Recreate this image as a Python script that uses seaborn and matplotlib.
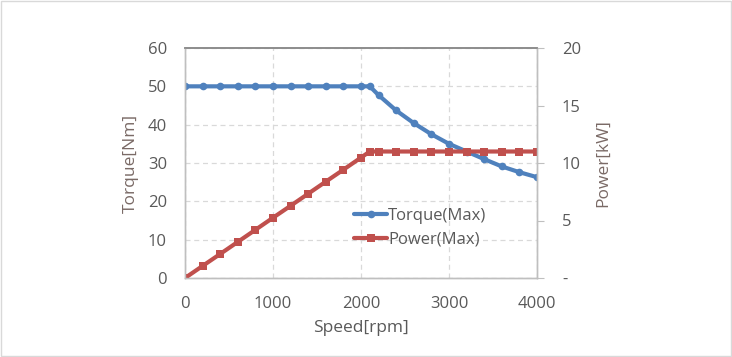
import numpy as np
import pandas as pd
import matplotlib
matplotlib.use('Agg')
import matplotlib.pyplot as plt
import seaborn as sns
from matplotlib.patches import Rectangle

# Data
speed = [0, 200, 400, 600, 800, 1000, 1200, 1400, 1600, 1800, 2000, 2100,
         2200, 2400, 2600, 2800, 3000, 3200, 3400, 3600, 3800, 4000]
torque = [50, 50, 50, 50, 50, 50, 50, 50, 50, 50, 50, 50,
          47.7, 43.7, 40.4, 37.5, 35.0, 33.0, 31.0, 29.1, 27.6, 26.3]
power = [0, 1.05, 2.09, 3.14, 4.19, 5.24, 6.28, 7.33, 8.38, 9.42, 10.47, 11.0,
         11.0, 11.0, 11.0, 11.0, 11.0, 11.0, 11.0, 11.0, 11.0, 11.0]

df = pd.DataFrame({'speed': speed, 'torque': torque, 'power': power})

sns.set_style('white')
plt.rcParams['font.family'] = ['Open Sans', 'DejaVu Sans']

blue = '#4F81BD'
red = '#C0504D'
txt = '#595959'
spine = '#BFBFBF'

fig = plt.figure(figsize=(7.32, 3.57), dpi=100)
ax = fig.add_axes([185 / 732, 1 - 278 / 357, 352 / 732, 230 / 357])
ax2 = ax.twinx()

sns.lineplot(data=df, x='speed', y='torque', ax=ax, color=blue, lw=3,
             marker='o', markersize=5.5, markeredgewidth=0, label='Torque(Max)', legend=False)
sns.lineplot(data=df, x='speed', y='power', ax=ax2, color=red, lw=3,
             marker='s', markersize=6, markeredgewidth=0, label='Power(Max)', legend=False)

ax.set_xlim(0, 4000)
ax.set_ylim(0, 60)
ax2.set_ylim(0, 20)
ax.set_xticks([0, 1000, 2000, 3000, 4000])
ax.set_yticks([0, 10, 20, 30, 40, 50, 60])
ax2.set_yticks([0, 5, 10, 15, 20])
ax2.set_yticklabels(['-', '5', '10', '15', '20'])

ax.grid(True, color='#D9D9D9', ls=(0, (4, 3)), lw=0.9)
ax.set_axisbelow(True)

for a in (ax, ax2):
    for s in a.spines.values():
        s.set_color(spine)
        s.set_linewidth(1)
    a.spines['top'].set_color('#8C8C8C')
    a.spines['top'].set_linewidth(1.2)

ax.tick_params(axis='both', length=0, labelsize=12, labelcolor=txt)
ax.tick_params(axis='x', pad=13)
ax.tick_params(axis='y', pad=13)
ax2.tick_params(axis='y', length=5, color=spine, labelsize=12, labelcolor=txt, pad=13)

ax.set_xlabel('Speed[rpm]', fontsize=12.5, color=txt, labelpad=6)
ax.set_ylabel('Torque[Nm]', fontsize=12.5, color='#7A6A66', labelpad=6)
ax2.set_ylabel('Power[kW]', fontsize=12.5, color='#7A6A66', labelpad=10)

h1, l1 = ax.get_legend_handles_labels()
h2, l2 = ax2.get_legend_handles_labels()
leg = ax2.legend(h1 + h2, l1 + l2, loc='upper left', bbox_to_anchor=(0.48, 0.305),
                 frameon=False, fontsize=12, handlelength=2.0, handletextpad=0.05,
                 labelspacing=0.45, borderaxespad=0, borderpad=0)
for t in leg.get_texts():
    t.set_color(txt)

fig.patches.append(Rectangle((0.0015, 0.003), 0.997, 0.994, transform=fig.transFigure,
                             fill=False, edgecolor='#D9D9D9', lw=1))

fig.savefig('out.png', dpi=100)
